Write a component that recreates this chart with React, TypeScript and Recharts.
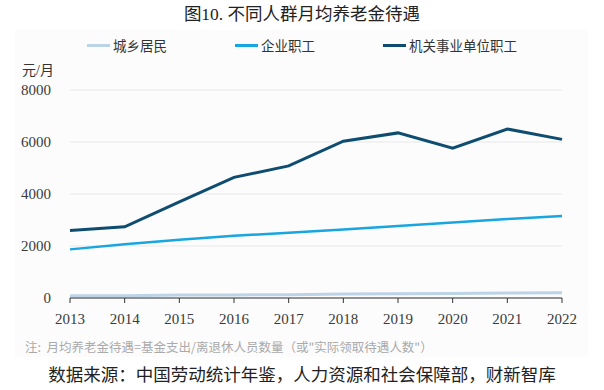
import React from 'react'
import { LineChart, Line, XAxis, YAxis, CartesianGrid } from 'recharts'

// 年份
const years = ['2013', '2014', '2015', '2016', '2017', '2018', '2019', '2020', '2021', '2022']

// 月均养老金（元/月）
const urbanRural = [82, 91, 117, 119, 125, 152, 162, 174, 190, 205]
const enterprise = [1870, 2070, 2240, 2390, 2510, 2630, 2770, 2900, 3040, 3150]
const institution = [2600, 2740, 3700, 4640, 5080, 6030, 6350, 5760, 6500, 6100]

const yTicks = [0, 2000, 4000, 6000, 8000]

const series = [
  { key: 'urbanRural', name: '城乡居民', color: '#bdd3e8', width: 3 },
  { key: 'enterprise', name: '企业职工', color: '#18a6e0', width: 2.5 },
  { key: 'institution', name: '机关事业单位职工', color: '#0f4d70', width: 3 },
]

const data = years.map((year, i) => ({
  year,
  urbanRural: urbanRural[i],
  enterprise: enterprise[i],
  institution: institution[i],
}))

const serif = '"Liberation Serif", "Noto Sans CJK SC", serif'
const cjk = '"Noto Sans CJK SC", "Liberation Serif", sans-serif'

export default function App() {
  return (
    <div
      style={{
        position: 'absolute',
        left: 0,
        top: 0,
        width: 604,
        height: 390,
        background: '#fff',
        fontFamily: serif,
        overflow: 'hidden',
      }}
    >
      <div
        style={{
          position: 'absolute',
          left: 15,
          top: 30,
          width: 573,
          height: 327,
          background: '#fcfcfd',
        }}
      />
      <div
        style={{
          position: 'absolute',
          top: 0,
          left: 0,
          width: 604,
          textAlign: 'center',
          fontSize: 17.5,
          color: '#222',
          fontFamily: serif,
        }}
      >
        图10. 不同人群月均养老金待遇
      </div>

      <div style={{ position: 'absolute', top: 36, left: 87, display: 'flex' }}>
        {series.map((s) => (
          <div key={s.key} style={{ width: 148, display: 'flex', alignItems: 'center' }}>
            <span
              style={{
                display: 'inline-block',
                width: 23,
                height: 3,
                background: s.color,
                marginRight: 3,
              }}
            />
            <span style={{ fontSize: 13.5, color: '#333', fontFamily: cjk, lineHeight: '18px' }}>
              {s.name}
            </span>
          </div>
        ))}
      </div>

      <div
        style={{
          position: 'absolute',
          top: 59,
          left: 22,
          fontSize: 14,
          color: '#333',
          fontFamily: serif,
        }}
      >
        元/月
      </div>

      <div style={{ position: 'absolute', left: 0, top: 0 }}>
        <LineChart
          width={604}
          height={390}
          data={data}
          margin={{ top: 90, right: 42, left: 10, bottom: 62 }}
        >
          <CartesianGrid vertical={false} stroke="#e8e8e8" strokeWidth={1} />
          <XAxis
            dataKey="year"
            interval={0}
            height={30}
            axisLine={{ stroke: '#333', strokeWidth: 1 }}
            tickLine={{ stroke: '#333', strokeWidth: 1 }}
            tickSize={5}
            tickMargin={10}
            tick={{ fontSize: 15, fill: '#3a3a3a', fontFamily: serif, fontWeight: 400 }}
          />
          <YAxis
            domain={[0, 8000]}
            ticks={yTicks}
            width={60}
            axisLine={false}
            tickLine={false}
            tickSize={6}
            tickMargin={13}
            tick={{ fontSize: 15, fill: '#3a3a3a', fontFamily: serif, fontWeight: 400 }}
          />
          {series.map((s) => (
            <Line
              key={s.key}
              type="linear"
              dataKey={s.key}
              name={s.name}
              stroke={s.color}
              strokeWidth={s.width}
              dot={false}
              activeDot={false}
              isAnimationActive={false}
            />
          ))}
        </LineChart>
      </div>

      <div
        style={{
          position: 'absolute',
          top: 337,
          left: 25,
          fontSize: 12.5,
          color: '#aaa',
          fontFamily: cjk,
          whiteSpace: 'pre',
        }}
      >
        注:  月均养老金待遇=基金支出/离退休人员数量（或"实际领取待遇人数"）
      </div>

      <div
        style={{
          position: 'absolute',
          top: 361,
          left: 0,
          width: 604,
          textAlign: 'center',
          fontSize: 17.5,
          color: '#222',
          fontFamily: serif,
          whiteSpace: 'nowrap',
        }}
      >
        数据来源：中国劳动统计年鉴，人力资源和社会保障部，财新智库
      </div>
    </div>
  )
}
